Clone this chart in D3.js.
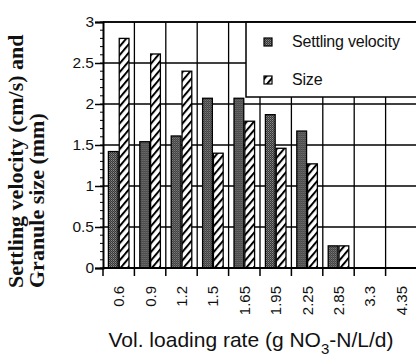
<!DOCTYPE html>
<html>
<head>
<meta charset="utf-8">
<script src="https://cdn.jsdelivr.net/npm/d3@7"></script>
<style>
  body { margin: 0; background: #fff; }
  text { fill: #111; }
</style>
</head>
<body>
<div id="chart"></div>
<script>
// data
const rates = ["0.6", "0.9", "1.2", "1.5", "1.65", "1.95", "2.25", "2.85", "3.3", "4.35"];
const velocity = [1.42, 1.54, 1.61, 2.07, 2.07, 1.87, 1.67, 0.27, 0, 0];
const size = [2.8, 2.61, 2.4, 1.4, 1.79, 1.46, 1.27, 0.27, 0, 0];
const seriesNames = ["Settling velocity", "Size"];
const yTicks = [0, 0.5, 1, 1.5, 2, 2.5, 3];

const W = 416, H = 360;
const M = { top: 22, left: 103, bottom: 92 };
const plotW = 314, plotH = H - M.top - M.bottom;

const svg = d3.select("#chart").append("svg")
  .attr("width", W).attr("height", H);

// patterns: dark stipple + diagonal hatch
const defs = svg.append("defs");
const stip = defs.append("pattern").attr("id", "stip")
  .attr("patternUnits", "userSpaceOnUse").attr("width", 2).attr("height", 2);
stip.append("rect").attr("width", 2).attr("height", 2).attr("fill", "#383838");
stip.append("rect").attr("width", 1).attr("height", 1).attr("fill", "#8a8a8a");
stip.append("rect").attr("x", 1).attr("y", 1).attr("width", 1).attr("height", 1).attr("fill", "#666");

const hatch = defs.append("pattern").attr("id", "hatch")
  .attr("patternUnits", "userSpaceOnUse").attr("width", 5.5).attr("height", 5.5)
  .attr("patternTransform", "rotate(40)");
hatch.append("rect").attr("width", 5.5).attr("height", 5.5).attr("fill", "#fff");
hatch.append("line").attr("x1", 1).attr("x2", 1).attr("y1", 0).attr("y2", 5.5)
  .attr("stroke", "#000").attr("stroke-width", 2);

const g = svg.append("g").attr("transform", `translate(${M.left},${M.top})`);

const x = d3.scaleBand().domain(rates).range([0, plotW]);
const xs = d3.scaleBand().domain(seriesNames).range([0, x.bandwidth()])
  .paddingInner(0.1).paddingOuter(0.5);
const y = d3.scaleLinear().domain([0, 3]).range([plotH, 0]);

// grid
g.append("g").selectAll("line").data(yTicks.slice(1)).join("line")
  .attr("x1", 0).attr("x2", plotW + 10)
  .attr("y1", d => y(d)).attr("y2", d => y(d))
  .attr("stroke", "#000").attr("stroke-width", 1.3);
g.append("g").selectAll("line").data(rates.slice(1)).join("line")
  .attr("x1", d => x(d)).attr("x2", d => x(d))
  .attr("y1", 0).attr("y2", plotH)
  .attr("stroke", "#000").attr("stroke-width", 1.3);

// bars
const rows = rates.map((r, i) => ({ r, v: [velocity[i], size[i]] }));
const grp = g.append("g").selectAll("g").data(rows).join("g")
  .attr("transform", d => `translate(${x(d.r)},0)`);
grp.selectAll("rect")
  .data(d => d.v.map((v, k) => ({ k, v })).filter(e => e.v > 0))
  .join("rect")
  .attr("x", e => xs(seriesNames[e.k]))
  .attr("width", xs.bandwidth())
  .attr("y", e => y(e.v))
  .attr("height", e => plotH - y(e.v))
  .attr("fill", e => e.k === 0 ? "url(#stip)" : "url(#hatch)")
  .attr("stroke", "#000").attr("stroke-width", 1.3);

// legend box
const lg = g.append("g").attr("transform", `translate(${143},0)`);
lg.append("rect").attr("x", 0).attr("y", 0).attr("width", 200).attr("height", 75)
  .attr("fill", "#fff").attr("stroke", "#000").attr("stroke-width", 1.5);
seriesNames.forEach((s, i) => {
  const cy = 20 + i * 38;
  lg.append("rect").attr("x", 18).attr("y", cy - 4).attr("width", 8).attr("height", 8)
    .attr("fill", i === 0 ? "url(#stip)" : "url(#hatch)")
    .attr("stroke", "#000").attr("stroke-width", 1.2);
  lg.append("text").attr("x", 46).attr("y", cy + 5)
    .attr("font-family", "Liberation Sans, Arial, sans-serif")
    .attr("font-size", 16).attr("letter-spacing", -0.2).text(s);
});

// y axis
const yAxis = g.append("g")
  .call(d3.axisLeft(y).tickValues(yTicks).tickSize(8).tickPadding(1)
    .tickFormat(d3.format("")));
yAxis.select(".domain").attr("stroke-width", 2);
yAxis.selectAll(".tick line").attr("stroke-width", 1.5);
yAxis.selectAll("text").attr("font-family", "Liberation Sans, Arial, sans-serif")
  .attr("font-size", 15.5).attr("fill", "#111");
// minor ticks
g.append("g").selectAll("line").data(d3.range(0, 3.01, 0.1)).join("line")
  .attr("x1", -3).attr("x2", 0)
  .attr("y1", d => y(d)).attr("y2", d => y(d))
  .attr("stroke", "#000").attr("stroke-width", 1);

// top border
g.append("line").attr("x1", 0).attr("x2", plotW + 10).attr("y1", 0).attr("y2", 0)
  .attr("stroke", "#000").attr("stroke-width", 1.5);

// x axis
const xAxis = g.append("g").attr("transform", `translate(0,${plotH})`);
xAxis.append("line").attr("x1", 0).attr("x2", plotW + 10)
  .attr("stroke", "#000").attr("stroke-width", 2);
xAxis.selectAll(".tk").data(rates).join("line").attr("class", "tk")
  .attr("x1", d => x(d)).attr("x2", d => x(d))
  .attr("y1", 0).attr("y2", 8)
  .attr("stroke", "#000").attr("stroke-width", 1.5);
xAxis.selectAll(".lab").data(rates).join("text").attr("class", "lab")
  .attr("transform", d => `translate(${x(d) + x.bandwidth() / 2},18) rotate(-90)`)
  .attr("text-anchor", "end").attr("dy", "0.36em")
  .attr("font-family", "Liberation Sans, Arial, sans-serif")
  .attr("font-size", 15).text(d => d);

// axis titles
const xt = svg.append("text").attr("x", 251).attr("y", 347)
  .attr("text-anchor", "middle")
  .attr("font-family", "Liberation Sans, Arial, sans-serif")
  .attr("font-size", 21);
xt.append("tspan").text("Vol. loading rate (g NO");
xt.append("tspan").attr("font-size", 15).attr("dy", 7).text("3");
xt.append("tspan").attr("dy", -7).text("-N/L/d)");

const yt = svg.append("g").attr("transform", "translate(0,288) rotate(-90)")
  .attr("font-family", "Liberation Serif, Times New Roman, serif")
  .attr("font-weight", "bold").attr("font-size", 22);
yt.append("text").attr("x", 0).attr("y", 23).text("Settling velocity (cm/s) and");
yt.append("text").attr("x", 0).attr("y", 44).text("Granule size (mm)");
</script>
</body>
</html>
